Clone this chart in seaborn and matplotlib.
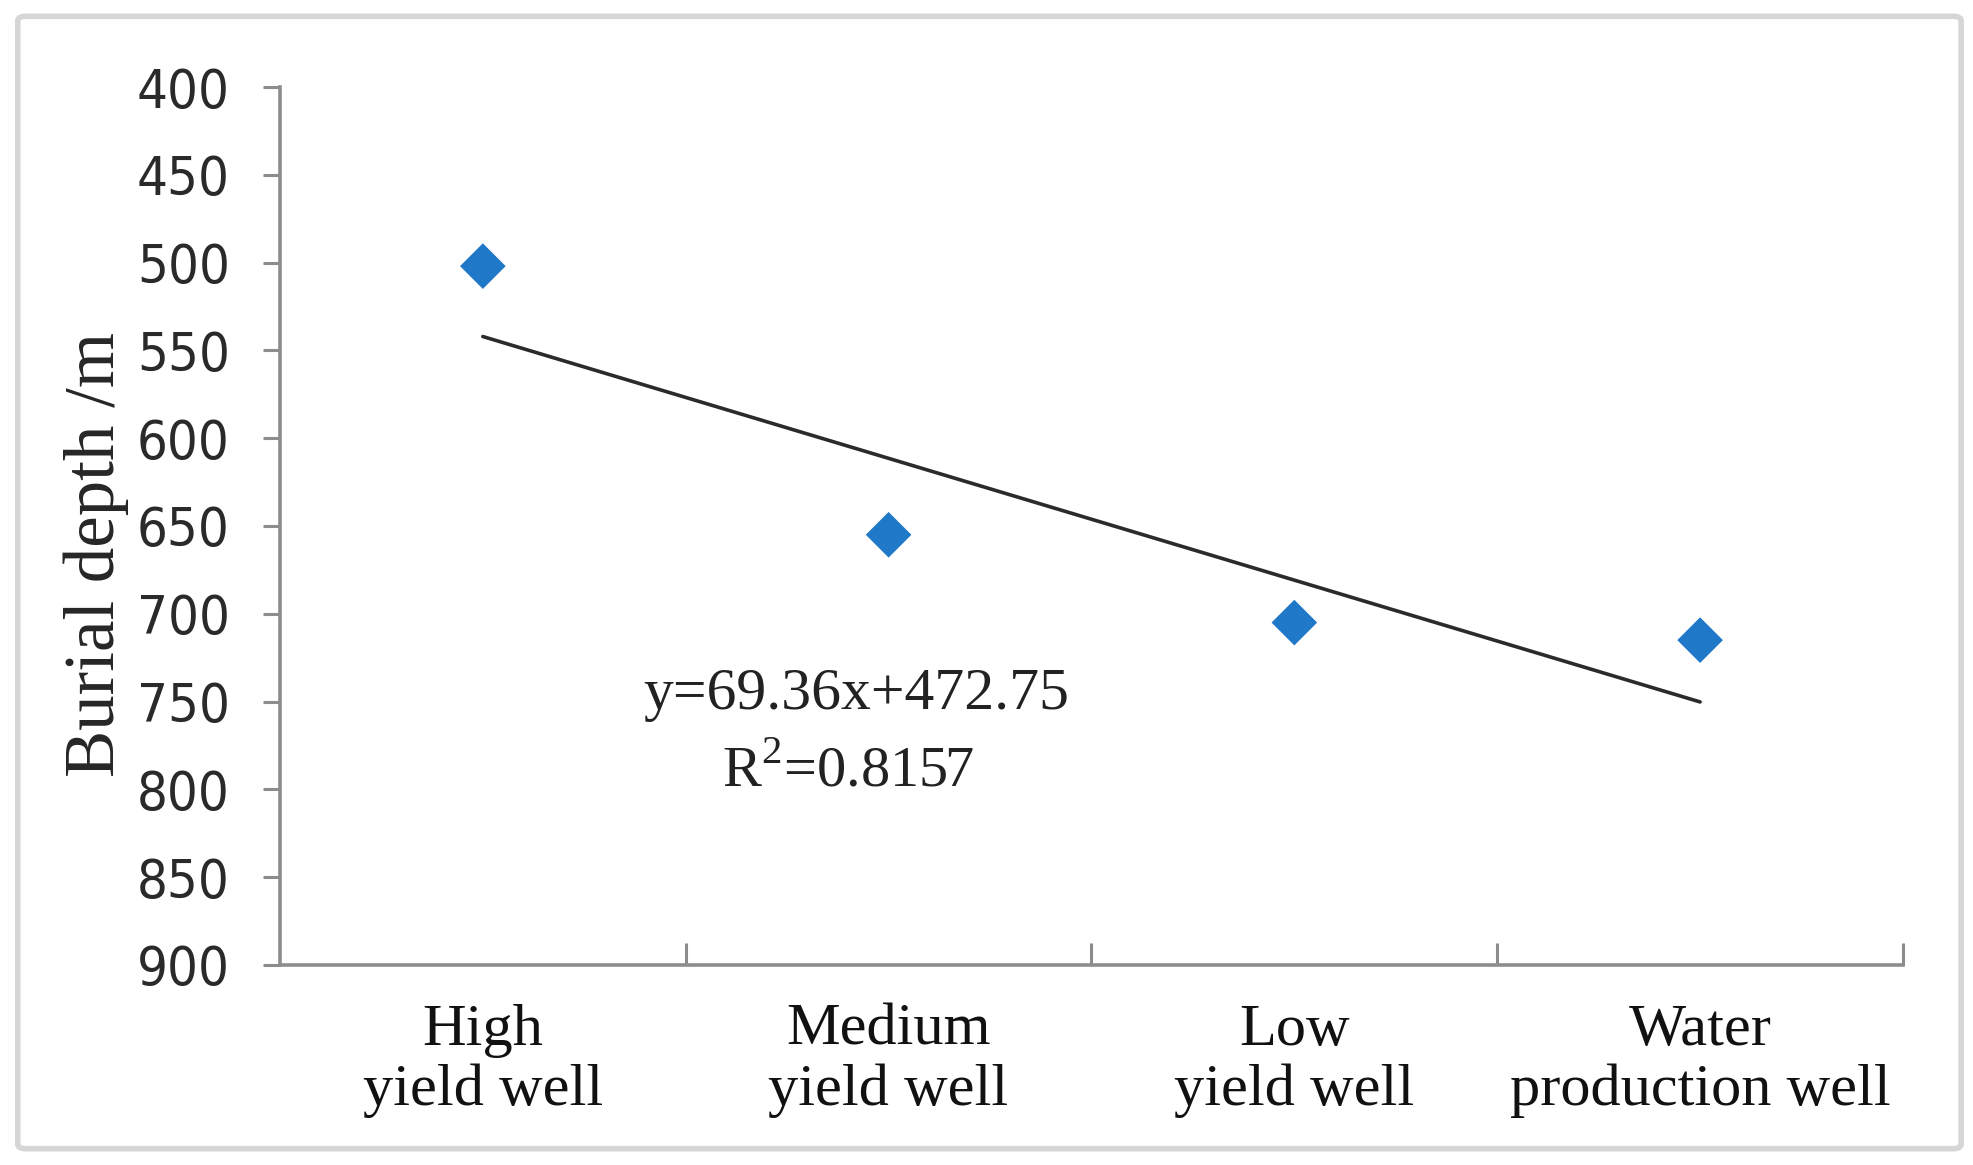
"""Burial depth by well type, scatter with linear trend."""

import matplotlib
matplotlib.use("Agg")
import matplotlib.pyplot as plt
import numpy as np
import pandas as pd
import seaborn as sns
from matplotlib.patches import FancyBboxPatch

# data
categories = ["High\nyield well", "Medium\nyield well", "Low\nyield well", "Water\nproduction well"]
depth_m = [502, 655, 705, 715]
trend_x = [1, 4]
trend_y = [542.1, 750.2]
equation = "y=69.36x+472.75"
r2_text = r"R$^{2}$=0.8157"
y_ticks = [400, 450, 500, 550, 600, 650, 700, 750, 800, 850, 900]

sns.set_theme(style="white")
plt.rcParams["font.family"] = ["Liberation Serif", "DejaVu Serif"]
plt.rcParams["mathtext.fontset"] = "custom"
plt.rcParams["mathtext.rm"] = "Liberation Serif"

df = pd.DataFrame({"x": np.arange(1, len(depth_m) + 1), "depth": depth_m})
trend = pd.DataFrame({"x": trend_x, "depth": trend_y})

fig = plt.figure(figsize=(19.73, 11.65), dpi=100)
ax = fig.add_axes([0.1419, 0.1717, 0.8226, 0.7536])

sns.lineplot(data=trend, x="x", y="depth", ax=ax, color="#2b2b2b", linewidth=2.6)
sns.scatterplot(data=df, x="x", y="depth", ax=ax, marker="D", s=540,
                color="#1f78c8", edgecolor="none", zorder=3)

ax.set_xlim(0.5, len(categories) + 0.5)
ax.set_ylim(900, 400)
ax.set_xlabel("")
ax.set_ylabel("Burial depth /m", fontsize=51, family=["Liberation Serif"])
ax.yaxis.set_label_coords(-0.093, 0.467)

# y axis: narrow sans digits, ticks outward
ax.set_yticks(y_ticks)
ax.set_yticklabels([str(v) for v in y_ticks], fontsize=39, fontstretch="condensed",
                   family=["DejaVu Sans"], color="#2a2a2a")
ax.tick_params(axis="y", direction="out", length=12, width=2.2, color="#8c8c8c", pad=24, left=True)

# x axis: boundary ticks inward, labels centred on categories
ax.set_xticks(np.arange(1.5, len(categories) + 1.0, 1.0))
ax.set_xticklabels([])
ax.set_xticks(np.arange(1, len(categories) + 1), minor=True)
ax.set_xticklabels(categories, minor=True, fontsize=43.5, linespacing=1.13, color="#111111")
ax.tick_params(axis="x", which="major", direction="in", length=16, width=2.2, color="#8c8c8c", bottom=True)
ax.tick_params(axis="x", which="minor", length=0, pad=28)

for side in ["top", "right"]:
    ax.spines[side].set_visible(False)
for side in ["left", "bottom"]:
    ax.spines[side].set_color("#8c8c8c")
    ax.spines[side].set_linewidth(2.6)

ax.text(1.92, 754, equation, fontsize=43, ha="center", va="baseline", color="#222222")
ax.text(1.9, 798, r2_text, fontsize=42, ha="center", va="baseline", color="#222222")

# light grey frame around the whole figure
frame = FancyBboxPatch((0.009, 0.014), 0.985, 0.972, transform=fig.transFigure,
                       boxstyle="round,pad=0,rounding_size=0.004",
                       facecolor="none", edgecolor="#d6d6d6", linewidth=4)
fig.patches.append(frame)

fig.savefig("out.png", dpi=100)
plt.close(fig)
